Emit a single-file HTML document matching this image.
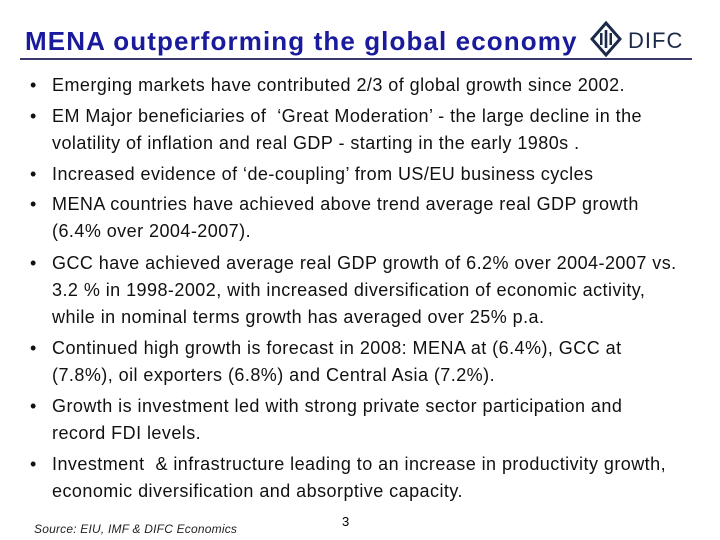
<!DOCTYPE html>
<html><head><meta charset="utf-8"><style>
body{margin:0;width:720px;height:540px;background:#fff;position:relative;overflow:hidden;font-family:"Liberation Sans",sans-serif;}
#title{position:absolute;left:25px;top:26px;font-size:26px;letter-spacing:1.1px;font-weight:bold;color:#1a1a9c;white-space:nowrap;}
#rule{position:absolute;left:20px;top:58px;width:672px;height:2px;background:#3a3a6a;}
.b{position:absolute;left:30px;font-size:18px;letter-spacing:0.45px;color:#111;line-height:27px;}
.b span.dot{position:absolute;left:0;}
.b div{margin-left:22px;white-space:nowrap;}
#src{position:absolute;left:34px;top:522px;font-size:12px;letter-spacing:0.2px;font-style:italic;color:#222;}
#pg{position:absolute;left:342px;top:514px;font-size:13px;}
#logo{position:absolute;left:590px;top:20px;}
</style></head><body>
<div id="title">MENA outperforming the global economy</div>
<div id="rule"></div>
<svg id="logo" width="105" height="38">
<polygon points="16,3 30,19 16,35 2,19" fill="none" stroke="#1c2a4a" stroke-width="3"/>
<rect x="10" y="13" width="2.5" height="12" fill="#1c2a4a"/><rect x="14.7" y="10" width="2.6" height="18" fill="#1c2a4a"/><rect x="19.5" y="13" width="2.5" height="12" fill="#1c2a4a"/>
<text x="38" y="28" font-family="Liberation Sans" font-size="22" fill="#1c2a4a" letter-spacing="1">DIFC</text>
</svg>
<div class="b" style="top:72px"><span class="dot">•</span><div>Emerging markets have contributed 2/3 of global growth since 2002.</div></div>
<div class="b" style="top:103px"><span class="dot">•</span><div>EM Major beneficiaries of &nbsp;‘Great Moderation’ - the large decline in the<br>volatility of inflation and real GDP - starting in the early 1980s .</div></div>
<div class="b" style="top:161px"><span class="dot">•</span><div>Increased evidence of ‘de-coupling’ from US/EU business cycles</div></div>
<div class="b" style="top:191px"><span class="dot">•</span><div>MENA countries have achieved above trend average real GDP growth<br>(6.4% over 2004-2007).</div></div>
<div class="b" style="top:250px"><span class="dot">•</span><div>GCC have achieved average real GDP growth of 6.2% over 2004-2007 vs.<br>3.2 % in 1998-2002, with increased diversification of economic activity,<br>while in nominal terms growth has averaged over 25% p.a.</div></div>
<div class="b" style="top:335px"><span class="dot">•</span><div>Continued high growth is forecast in 2008: MENA at (6.4%), GCC at<br>(7.8%), oil exporters (6.8%) and Central Asia (7.2%).</div></div>
<div class="b" style="top:393px"><span class="dot">•</span><div>Growth is investment led with strong private sector participation and<br>record FDI levels.</div></div>
<div class="b" style="top:451px"><span class="dot">•</span><div>Investment &nbsp;&amp; infrastructure leading to an increase in productivity growth,<br>economic diversification and absorptive capacity.</div></div>
<div id="src">Source: EIU, IMF &amp; DIFC Economics</div>
<div id="pg">3</div>
</body></html>
